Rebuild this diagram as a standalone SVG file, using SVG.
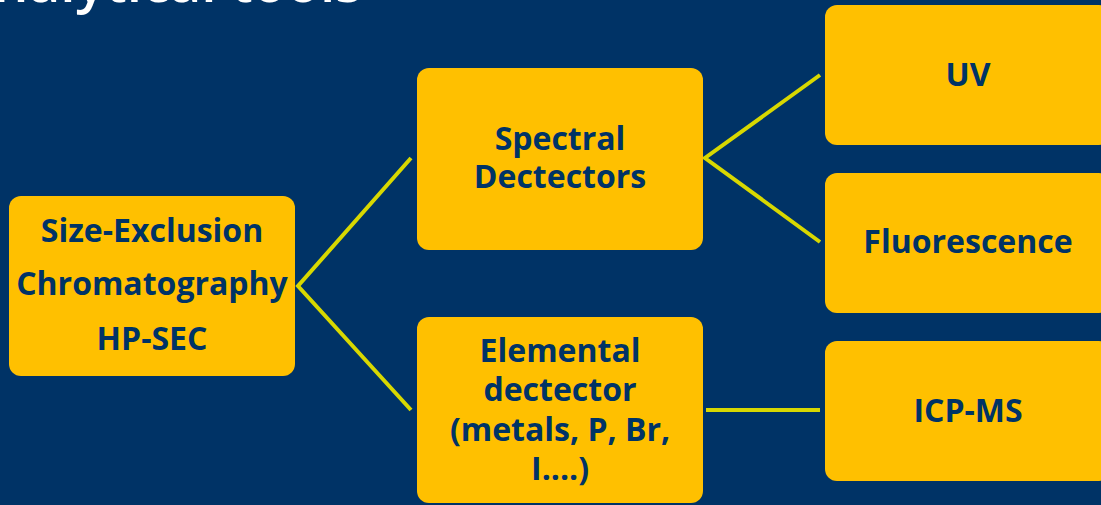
<svg xmlns="http://www.w3.org/2000/svg" width="1101" height="505" viewBox="0 0 1101 505">
  <style>
    .box { fill: #FFC000; }
    .lbl { font-family: "Open Sans", "Noto Sans", sans-serif; font-weight: 700; font-size: 32px; fill: #003366; text-anchor: middle; }
    .title { font-family: "Open Sans", "Noto Sans", sans-serif; font-weight: 600; font-size: 55px; fill: #FFFFFF; }
    .link { stroke: #D8D800; stroke-width: 4; fill: none; }
  </style>
  <rect x="0" y="0" width="1101" height="505" fill="#003366"/>
  <!-- heading runs off the top edge of the slide -->
  <text class="title" x="362" y="2" text-anchor="end">Analytical tools</text>

  <g id="connectors">
    <polyline class="link" points="411,158 298,286 411,410"/>
    <polyline class="link" points="820,75 705,158 820,242"/>
    <line class="link" x1="706" y1="410" x2="820" y2="410"/>
  </g>

  <g id="node-sec">
    <rect class="box" x="9" y="196" width="286" height="180" rx="12"/>
    <text class="lbl" x="152" y="242">Size-Exclusion</text>
    <text class="lbl" x="152" y="295">Chromatography</text>
    <text class="lbl" x="152" y="350">HP-SEC</text>
  </g>

  <g id="node-spectral">
    <rect class="box" x="417" y="68" width="286" height="182" rx="12"/>
    <text class="lbl" x="560" y="150">Spectral</text>
    <text class="lbl" x="560" y="188">Dectectors</text>
  </g>

  <g id="node-elemental">
    <rect class="box" x="417" y="317" width="286" height="186" rx="12"/>
    <text class="lbl" x="560" y="362">Elemental</text>
    <text class="lbl" x="560" y="401">dectector</text>
    <text class="lbl" x="560" y="441">(metals, P, Br,</text>
    <text class="lbl" x="560" y="480">I....)</text>
  </g>

  <g id="node-uv">
    <rect class="box" x="825" y="5" width="286" height="140" rx="12"/>
    <text class="lbl" x="968" y="86">UV</text>
  </g>

  <g id="node-fluorescence">
    <rect class="box" x="825" y="173" width="286" height="140" rx="12"/>
    <text class="lbl" x="968" y="253">Fluorescence</text>
  </g>

  <g id="node-icpms">
    <rect class="box" x="825" y="341" width="286" height="140" rx="12"/>
    <text class="lbl" x="968" y="422">ICP-MS</text>
  </g>
</svg>
